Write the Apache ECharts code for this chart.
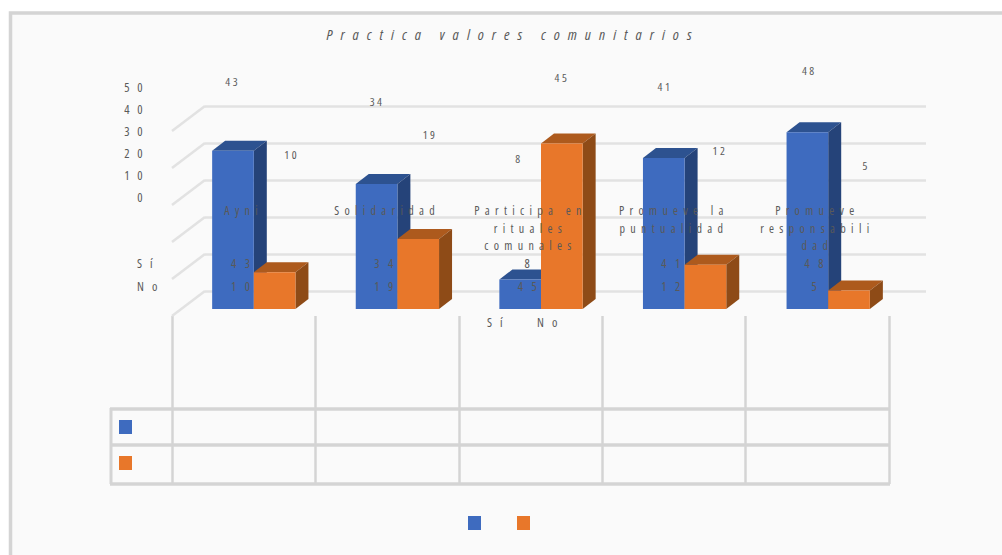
<!DOCTYPE html>
<html>
<head>
<meta charset="utf-8">
<script src="https://cdn.jsdelivr.net/npm/echarts@6/dist/echarts.min.js"></script>
<style>
  html, body { margin: 0; padding: 0; background: #ffffff; }
  #chart { position: absolute; left: 0; top: 0; width: 1002px; height: 555px; }
  /* Condensed width and per-group tracking; font size identifies the group */
  #chart text { font-stretch: 75% !important; }
  #chart text[style*="15px"]   { letter-spacing: 8.05px; }
  #chart text[style*="12px"]   { letter-spacing: 5.3px; }
  #chart text[style*="11.5px"] { letter-spacing: 2.5px; }
  #chart text[style*="12.5px"] { letter-spacing: 7.5px; }
  #chart text[style*="12.4px"] { letter-spacing: 8.5px; }
  #chart text[style*="12.3px"] { letter-spacing: 8px; }
</style>
</head>
<body>
<div id="chart"></div>
<script>
const titleText = 'Practica valores comunitarios';
const categories = ['Ayni', 'Solidaridad', 'Participa en\nrituales\ncomunales', 'Promueve la\npuntualidad', 'Promueve\nresponsabili\ndad'];
const seriesNames = ['Sí', 'No'];
const siValues = [43, 34, 8, 41, 48];
const noValues = [10, 19, 45, 12, 5];

const FONT = '"Open Sans", "Noto Sans", sans-serif';
const TEXT = '#595959';
const RULE = '#d4d4d4';
const WALL = '#e2e2e2';

// Oblique projection used by the bar boxes
const BAR_DX = 13, BAR_DY = -10;
// Horizontal nudges of the value captions, per category
const siNudge = [-11, -10, -11.5, -9, -8];
const noNudge = [48, 43, 31.5, 46, 49];

const palette = [
  { front: '#3e6bbf', top: '#2d5290', side: '#254379' },
  { front: '#e8772a', top: '#ad5a1d', side: '#8e4b17' }
];

// One extruded bar: front face plus top and side faces
function boxRenderer(seriesIdx) {
  return function (params, api) {
    const i = api.value(0);
    const base = api.coord([i, 0]);
    const head = api.coord([i, api.value(1)]);
    const w = api.size([1, 0])[0] * 0.29;
    const x0 = seriesIdx === 0 ? base[0] - w : base[0];
    const x1 = x0 + w;
    const c = palette[seriesIdx];
    return {
      type: 'group',
      children: [
        { type: 'polygon', shape: { points: [[x0, head[1]], [x1, head[1]], [x1 + BAR_DX, head[1] + BAR_DY], [x0 + BAR_DX, head[1] + BAR_DY]] }, style: { fill: c.top } },
        { type: 'polygon', shape: { points: [[x1, head[1]], [x1 + BAR_DX, head[1] + BAR_DY], [x1 + BAR_DX, base[1] + BAR_DY], [x1, base[1]]] }, style: { fill: c.side } },
        { type: 'rect', shape: { x: x0, y: head[1], width: w, height: base[1] - head[1] }, style: { fill: c.front } }
      ]
    };
  };
}

// Left wall of the plot: one slanted rule per axis tick
function wallRenderer(params, api) {
  const p = api.coord([0, api.value(0)]);
  const x = params.coordSys.x;
  return {
    type: 'line',
    shape: { x1: x, y1: p[1], x2: x - 33, y2: p[1] + 25 },
    style: { stroke: WALL, lineWidth: 2.5 }
  };
}

// Value captions floating above the plot
function captionRenderer(nudge) {
  return function (params, api) {
    const i = api.value(0);
    const p = api.coord([i, api.value(1)]);
    return {
      type: 'text',
      style: { x: p[0] + nudge[i], y: p[1] - 20.5, text: String(api.value(1)), fill: TEXT, font: '11.5px ' + FONT, textAlign: 'center', textVerticalAlign: 'middle' }
    };
  };
}

// Row values of the data table, set over the bars
function rowRenderer(rowY) {
  return function (params, api) {
    const i = api.value(0);
    const p = api.coord([i, 0]);
    return {
      type: 'text',
      style: { x: p[0] + 1, y: rowY, text: String(api.value(1)), fill: TEXT, font: '12.4px ' + FONT, textAlign: 'center', textVerticalAlign: 'middle' }
    };
  };
}

const chart = echarts.init(document.getElementById('chart'), null, { renderer: 'svg', width: 1002, height: 555 });

const wallTicks = [0, 10, 20, 30, 40, 50];
const idx = categories.map((_, i) => i);

chart.setOption({
  animation: false,
  backgroundColor: 'transparent',
  title: {
    text: titleText, left: 508, top: 21, textAlign: 'center',
    textStyle: { color: TEXT, fontSize: 15, fontStyle: 'italic', fontWeight: 'normal', fontFamily: FONT }
  },
  graphic: [
    // Chart frame
    { type: 'rect', z: -10, shape: { x: 10.5, y: 13, width: 1000, height: 560 }, style: { fill: '#fafafa', stroke: RULE, lineWidth: 3.5 } },
    // Data table rows
    { type: 'line', z: 1, shape: { x1: 110, y1: 409, x2: 890, y2: 409 }, style: { stroke: RULE, lineWidth: 3.5 } },
    { type: 'line', z: 1, shape: { x1: 110, y1: 445, x2: 890, y2: 445 }, style: { stroke: RULE, lineWidth: 3.5 } },
    { type: 'line', z: 1, shape: { x1: 110, y1: 484, x2: 890, y2: 484 }, style: { stroke: RULE, lineWidth: 3.5 } },
    { type: 'line', z: 1, shape: { x1: 111, y1: 408, x2: 111, y2: 484 }, style: { stroke: RULE, lineWidth: 3 } },
    // Data table legend keys
    { type: 'rect', z: 2, shape: { x: 119, y: 420, width: 13, height: 14 }, style: { fill: palette[0].front } },
    { type: 'rect', z: 2, shape: { x: 119, y: 456, width: 13, height: 14 }, style: { fill: palette[1].front } },
    // Row headers of the table
    { type: 'text', z: 20, style: { x: 137, y: 263, text: seriesNames[0], fill: TEXT, font: '12.3px ' + FONT, textVerticalAlign: 'middle' } },
    { type: 'text', z: 20, style: { x: 137, y: 286, text: seriesNames[1], fill: TEXT, font: '12.3px ' + FONT, textVerticalAlign: 'middle' } },
    // Legend captions
    { type: 'text', z: 20, style: { x: 487, y: 322, text: seriesNames[0], fill: TEXT, font: '12.3px ' + FONT, textVerticalAlign: 'middle' } },
    { type: 'text', z: 20, style: { x: 537, y: 322, text: seriesNames[1], fill: TEXT, font: '12.3px ' + FONT, textVerticalAlign: 'middle' } }
  ],
  legend: {
    left: 468, top: 516, itemWidth: 13, itemHeight: 14, itemGap: 36, padding: 0,
    icon: 'rect', formatter: () => '', selectedMode: false,
    data: seriesNames.map((n, i) => ({ name: n, itemStyle: { color: palette[i].front } }))
  },
  grid: [
    // 0: back wall, 1: bar plane, 2: caption plane, 3: table columns
    { left: 205, top: 106, width: 721, height: 185 },
    { left: 182, top: 125, width: 718, height: 184 },
    { left: 172, top: 87, width: 717, height: 110 },
    { left: 172, top: 316, width: 717, height: 168 }
  ],
  xAxis: [
    { gridIndex: 0, type: 'category', data: categories, show: false },
    { gridIndex: 1, type: 'category', data: categories, show: false },
    {
      gridIndex: 2, type: 'category', data: categories, z: 20,
      axisLine: { show: false }, axisTick: { show: false },
      axisLabel: { color: TEXT, fontFamily: FONT, fontSize: 12, lineHeight: 17.5, margin: 5, interval: 0, hideOverlap: false }
    },
    {
      gridIndex: 3, type: 'category', data: categories,
      axisLine: { show: false }, axisTick: { show: false }, axisLabel: { show: false },
      splitLine: { show: true, interval: 0, lineStyle: { color: RULE, width: 2.5 } }
    }
  ],
  yAxis: [
    {
      gridIndex: 0, type: 'value', min: 0, max: 50, interval: 10,
      axisLine: { show: false }, axisTick: { show: false }, axisLabel: { show: false },
      splitLine: { lineStyle: { color: WALL, width: 2.5 } }
    },
    { gridIndex: 1, type: 'value', min: 0, max: 50, show: false, splitLine: { show: false } },
    {
      gridIndex: 2, type: 'value', min: 0, max: 50, interval: 10,
      axisLine: { show: false }, axisTick: { show: false }, splitLine: { show: false },
      axisLabel: { color: TEXT, fontFamily: FONT, fontSize: 12.5, margin: 22 }
    },
    { gridIndex: 3, type: 'value', show: false, splitLine: { show: false } }
  ],
  series: [
    { type: 'custom', xAxisIndex: 0, yAxisIndex: 0, z: 1, silent: true, renderItem: wallRenderer, data: wallTicks.map(v => [v]), encode: { y: 0 } },
    { type: 'custom', name: seriesNames[0], xAxisIndex: 1, yAxisIndex: 1, z: 3, renderItem: boxRenderer(0), data: idx.map(i => [i, siValues[i]]), encode: { x: 0, y: 1 }, itemStyle: { color: palette[0].front } },
    { type: 'custom', name: seriesNames[1], xAxisIndex: 1, yAxisIndex: 1, z: 4, renderItem: boxRenderer(1), data: idx.map(i => [i, noValues[i]]), encode: { x: 0, y: 1 }, itemStyle: { color: palette[1].front } },
    { type: 'custom', xAxisIndex: 2, yAxisIndex: 2, z: 10, renderItem: captionRenderer(siNudge), data: idx.map(i => [i, siValues[i]]), encode: { x: 0, y: 1 } },
    { type: 'custom', xAxisIndex: 2, yAxisIndex: 2, z: 10, renderItem: captionRenderer(noNudge), data: idx.map(i => [i, noValues[i]]), encode: { x: 0, y: 1 } },
    { type: 'custom', xAxisIndex: 2, yAxisIndex: 2, z: 10, renderItem: rowRenderer(263), data: idx.map(i => [i, siValues[i]]), encode: { x: 0, y: 1 } },
    { type: 'custom', xAxisIndex: 2, yAxisIndex: 2, z: 10, renderItem: rowRenderer(286), data: idx.map(i => [i, noValues[i]]), encode: { x: 0, y: 1 } }
  ]
});
</script>
</body>
</html>
